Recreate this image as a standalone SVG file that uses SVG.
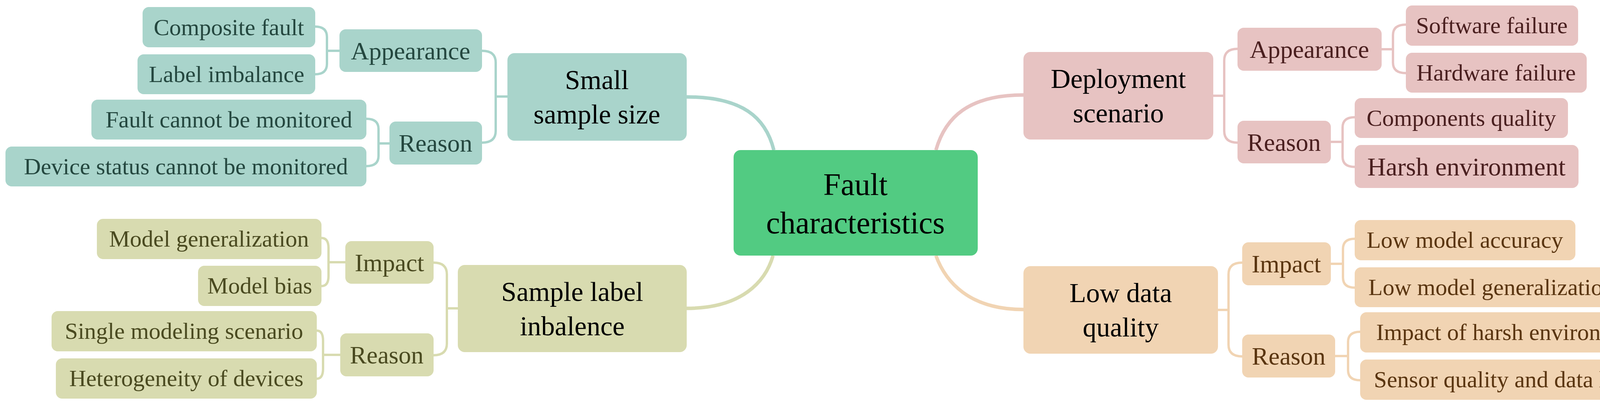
<svg xmlns="http://www.w3.org/2000/svg" width="4324" height="1044" viewBox="0 0 4324 1044">
<style>
text{font-family:"Liberation Serif","Times New Roman",serif;text-anchor:middle;dominant-baseline:central}
.c{fill:none;stroke-width:6}
.m{fill:none;stroke-width:9}
.t{stroke:#a9d4cb}.p{stroke:#e7c3c2}.o{stroke:#d8dbb0}.e{stroke:#f1d4b3}
.bt{fill:#a9d4cb}.bp{fill:#e7c3c2}.bo{fill:#d8dbb0}.be{fill:#f1d4b3}
.tt{fill:#24473f}.tp{fill:#4a1f1f}.to{fill:#4a4a20}.te{fill:#5a3510}
.l1{font-size:70px;fill:#000}.l2{font-size:64px}.l3{font-size:60px}
</style>
<g id="connectors">
<path class="m t" d="M1758,248 C1900,248 1960,300 1981,384"/>
<path class="m p" d="M2620,243 C2480,243 2420,300 2396,384"/>
<path class="m o" d="M1758,789 C1900,789 1960,720 1979,654"/>
<path class="m e" d="M2620,792 C2480,792 2420,720 2396,654"/>
<path class="c t" d="M1299,247 H1269 M1234,130 Q1269,130 1269,160 V335 Q1269,365 1234,365"/>
<path class="c t" d="M869,130 H837 M807,68 Q837,68 837,95 V163 Q837,190 807,190"/>
<path class="c t" d="M997,367 H969 M938,304 Q969,304 969,330 V399 Q969,425 938,425"/>
<path class="c p" d="M3106,245 H3134 M3168,125 Q3134,125 3134,155 V335 Q3134,365 3168,365"/>
<path class="c p" d="M3537,126 H3566 M3599,63 Q3566,63 3566,90 V160 Q3566,187 3599,187"/>
<path class="c p" d="M3407,363 H3437 M3468,300 Q3437,300 3437,326 V401 Q3437,427 3468,427"/>
<path class="c o" d="M1172,789 H1144 M1110,672 Q1144,672 1144,702 V879 Q1144,909 1110,909"/>
<path class="c o" d="M884,671 H841 M823,609 Q841,609 841,635 V706 Q841,732 823,732"/>
<path class="c o" d="M871,908 H827 M811,846 Q827,846 827,872 V943 Q827,969 811,969"/>
<path class="c e" d="M3118,793 H3145 M3180,672 Q3145,672 3145,702 V882 Q3145,912 3180,912"/>
<path class="c e" d="M3407,675 H3438 M3468,611 Q3438,611 3438,637 V710 Q3438,736 3468,736"/>
<path class="c e" d="M3418,911 H3451 M3482,849 Q3451,849 3451,875 V947 Q3451,973 3482,973"/>
</g>
<g id="center"><rect x="1878" y="384" width="625" height="270" rx="18" fill="#52cb82"/><text x="2190" y="472" font-size="80">Fault</text><text x="2190" y="570" font-size="80">characteristics</text></g>
<g id="n-small"><rect class="bt" x="1299" y="136" width="459" height="224" rx="18"/><text class="l1" x="1528" y="204">Small</text><text class="l1" x="1528" y="292">sample size</text></g>
<g id="n-sapp"><rect class="bt" x="869" y="75" width="365" height="109" rx="16"/><text class="l2 tt" x="1051" y="130">Appearance</text></g>
<g id="n-comp"><rect class="bt" x="365" y="18" width="442" height="103" rx="16"/><text class="l3 tt" x="586" y="70">Composite fault</text></g>
<g id="n-limb"><rect class="bt" x="352" y="139" width="455" height="102" rx="16"/><text class="l3 tt" x="580" y="190">Label imbalance</text></g>
<g id="n-srea"><rect class="bt" x="997" y="311" width="237" height="110" rx="16"/><text class="l2 tt" x="1115" y="366">Reason</text></g>
<g id="n-fcm"><rect class="bt" x="234" y="255" width="704" height="102" rx="16"/><text class="l3 tt" x="586" y="306">Fault cannot be monitored</text></g>
<g id="n-dsm"><rect class="bt" x="14" y="375" width="924" height="102" rx="16"/><text class="l3 tt" x="476" y="426">Device status cannot be monitored</text></g>
<g id="n-dep"><rect class="bp" x="2620" y="133" width="486" height="224" rx="18"/><text class="l1" x="2863" y="201">Deployment</text><text class="l1" x="2863" y="289">scenario</text></g>
<g id="n-dapp"><rect class="bp" x="3168" y="71" width="369" height="110" rx="16"/><text class="l2 tp" x="3352" y="126">Appearance</text></g>
<g id="n-sw"><rect class="bp" x="3599" y="14" width="441" height="103" rx="16"/><text class="l3 tp" x="3819" y="65">Software failure</text></g>
<g id="n-hw"><rect class="bp" x="3599" y="135" width="463" height="102" rx="16"/><text class="l3 tp" x="3830" y="186">Hardware failure</text></g>
<g id="n-drea"><rect class="bp" x="3168" y="309" width="239" height="109" rx="16"/><text class="l2 tp" x="3287" y="364">Reason</text></g>
<g id="n-cq"><rect class="bp" x="3468" y="251" width="546" height="102" rx="16"/><text class="l3 tp" x="3741" y="302">Components quality</text></g>
<g id="n-he"><rect class="bp" x="3468" y="371" width="573" height="110" rx="16"/><text class="tp" font-size="66" x="3754" y="426">Harsh environment</text></g>
<g id="n-sli"><rect class="bo" x="1172" y="678" width="586" height="223" rx="18"/><text class="l1" x="1465" y="746">Sample label</text><text class="l1" x="1465" y="834">inbalence</text></g>
<g id="n-oimp"><rect class="bo" x="884" y="617" width="226" height="109" rx="16"/><text class="l2 to" x="997" y="672">Impact</text></g>
<g id="n-mg"><rect class="bo" x="248" y="560" width="575" height="103" rx="16"/><text class="l3 to" x="535" y="611">Model generalization</text></g>
<g id="n-mb"><rect class="bo" x="507" y="680" width="316" height="103" rx="16"/><text class="l3 to" x="665" y="731">Model bias</text></g>
<g id="n-orea"><rect class="bo" x="871" y="853" width="239" height="110" rx="16"/><text class="l2 to" x="990" y="908">Reason</text></g>
<g id="n-sms"><rect class="bo" x="132" y="796" width="679" height="103" rx="16"/><text class="l3 to" x="471" y="847">Single modeling scenario</text></g>
<g id="n-hod"><rect class="bo" x="143" y="917" width="668" height="103" rx="16"/><text class="l3 to" x="477" y="968">Heterogeneity of devices</text></g>
<g id="n-ldq"><rect class="be" x="2620" y="681" width="498" height="224" rx="18"/><text class="l1" x="2869" y="749">Low data</text><text class="l1" x="2869" y="837">quality</text></g>
<g id="n-eimp"><rect class="be" x="3180" y="620" width="227" height="110" rx="16"/><text class="l2 te" x="3293" y="675">Impact</text></g>
<g id="n-lma"><rect class="be" x="3468" y="563" width="565" height="103" rx="16"/><text class="l3 te" x="3750" y="614">Low model accuracy</text></g>
<g id="n-lmg"><rect class="be" x="3468" y="684" width="700" height="102" rx="16"/><text class="l3 te" x="3818" y="735">Low model generalization</text></g>
<g id="n-erea"><rect class="be" x="3180" y="856" width="238" height="110" rx="16"/><text class="l2 te" x="3299" y="911">Reason</text></g>
<g id="n-ihe"><rect class="be" x="3482" y="799" width="801" height="103" rx="16"/><text class="l3 te" x="3882" y="850">Impact of harsh environments</text></g>
<g id="n-sqd"><rect class="be" x="3482" y="920" width="740" height="103" rx="16"/><text class="l3 te" x="3852" y="971">Sensor quality and data loss</text></g>
</svg>
